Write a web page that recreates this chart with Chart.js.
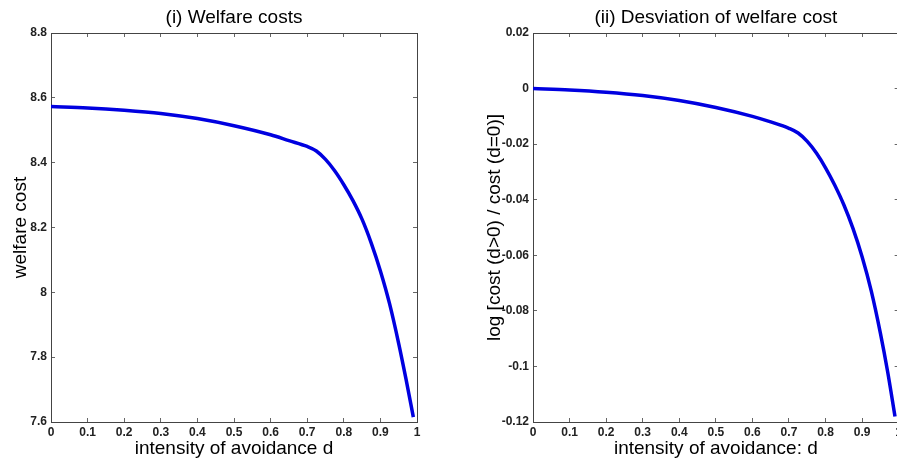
<!DOCTYPE html>
<html>
<head>
<meta charset="utf-8">
<script src="https://cdn.jsdelivr.net/npm/chart.js@4.4.1/dist/chart.umd.min.js"></script>
<style>
  html, body { margin: 0; padding: 0; background: #fff; overflow: hidden; }
  #wrap { position: relative; width: 897px; height: 464px; overflow: hidden; background: #fff; }
  canvas { position: absolute; top: 0; }
  #chart-left { left: 0; }
  #chart-right { left: 449px; }
</style>
</head>
<body>
<div id="wrap">
  <canvas id="chart-left" width="448" height="464"></canvas>
  <canvas id="chart-right" width="460" height="464"></canvas>
</div>
<script>
// intensity of avoidance d
const avoidance = [0, 0.1, 0.2, 0.3, 0.4, 0.5, 0.6, 0.65, 0.7, 0.725, 0.75, 0.775, 0.8, 0.825, 0.85, 0.875, 0.9, 0.925, 0.95, 0.97, 0.99];
// (i) welfare cost
const welfareCost = [8.573, 8.569, 8.562, 8.552, 8.536, 8.514, 8.486, 8.468, 8.450, 8.436, 8.410, 8.375, 8.332, 8.283, 8.225, 8.152, 8.066, 7.965, 7.842, 7.732, 7.615];
// (ii) log [cost (d>0) / cost (d=0)]
const costDeviation = [0.0000, -0.0005, -0.0013, -0.0025, -0.0043, -0.0068, -0.0100, -0.0120, -0.0143, -0.0160, -0.0190, -0.0232, -0.0285, -0.0347, -0.0418, -0.0503, -0.0605, -0.0728, -0.0880, -0.1020, -0.1180];

const xTicks = [0, 0.1, 0.2, 0.3, 0.4, 0.5, 0.6, 0.7, 0.8, 0.9, 1];
const xTickLabels = ['0', '0.1', '0.2', '0.3', '0.4', '0.5', '0.6', '0.7', '0.8', '0.9', '1'];
const leftYTicks = [7.6, 7.8, 8, 8.2, 8.4, 8.6, 8.8];
const leftYTickLabels = ['7.6', '7.8', '8', '8.2', '8.4', '8.6', '8.8'];
const rightYTicks = [-0.12, -0.1, -0.08, -0.06, -0.04, -0.02, 0, 0.02];
const rightYTickLabels = ['-0.12', '-0.1', '-0.08', '-0.06', '-0.04', '-0.02', '0', '0.02'];

const tickFont = { family: "'Liberation Sans Narrow', 'Arial Narrow', 'Liberation Sans', Arial, sans-serif", size: 12, weight: 'bold' };
const titleFont = { family: "'Liberation Sans', Arial, sans-serif", size: 19, weight: 'normal' };
const axisColor = '#444';
const tickMarkColor = '#666';

function setTicks(list) {
  return scale => { scale.ticks = list.map(v => ({ value: v })); };
}

function makeChart(id, cfg) {
  const ctx = document.getElementById(id).getContext('2d');
  const grid = { drawOnChartArea: false, drawTicks: true, tickLength: -4, color: tickMarkColor };
  const border = { display: true, color: axisColor, width: 1 };
  return new Chart(ctx, {
    type: 'line',
    data: {
      datasets: [{
        data: avoidance.map((d, i) => ({ x: d, y: cfg.values[i] })),
        borderColor: '#0000e0',
        borderWidth: 3.5,
        pointRadius: 0,
        fill: false,
        cubicInterpolationMode: 'monotone',
        xAxisID: 'x',
        yAxisID: 'y'
      }]
    },
    options: {
      responsive: false,
      animation: false,
      devicePixelRatio: 1,
      layout: { padding: 0 },
      plugins: { legend: { display: false }, tooltip: { enabled: false }, title: { display: false } },
      scales: {
        x: {
          type: 'linear', position: 'bottom', min: 0, max: 1,
          afterBuildTicks: setTicks(xTicks),
          afterFit: s => { s.height = 42; },
          ticks: { callback: (v, i) => xTickLabels[i], font: tickFont, color: '#222', padding: 7, maxRotation: 0, autoSkip: false },
          grid: grid, border: border,
          title: { display: true, text: cfg.xTitle, font: titleFont, color: '#000', padding: { top: 0, bottom: 4 } }
        },
        x2: {
          type: 'linear', position: 'top', min: 0, max: 1,
          afterBuildTicks: setTicks(xTicks),
          afterFit: s => { s.height = 33; },
          ticks: { display: false },
          grid: grid, border: border,
          title: { display: true, text: cfg.title, font: titleFont, color: '#000', padding: { top: 6, bottom: 0 } }
        },
        y: {
          type: 'linear', position: 'left', min: cfg.yTicks[0], max: cfg.yTicks[cfg.yTicks.length - 1],
          afterBuildTicks: setTicks(cfg.yTicks),
          afterFit: s => { s.width = cfg.yWidth; },
          ticks: { callback: (v, i) => cfg.yLabels[i], font: tickFont, color: '#222', padding: 8, autoSkip: false },
          grid: grid, border: border,
          title: { display: true, text: cfg.yTitle, font: titleFont, color: '#000', padding: { top: cfg.yTitlePad, bottom: 0 } }
        },
        y2: {
          type: 'linear', position: 'right', min: cfg.yTicks[0], max: cfg.yTicks[cfg.yTicks.length - 1],
          afterBuildTicks: setTicks(cfg.yTicks),
          afterFit: s => { s.width = cfg.y2Width; },
          ticks: { display: false },
          grid: grid, border: border
        }
      }
    }
  });
}

makeChart('chart-left', {
  values: welfareCost,
  title: '(i) Welfare costs',
  xTitle: 'intensity of avoidance d',
  yTitle: 'welfare cost',
  yTicks: leftYTicks,
  yLabels: leftYTickLabels,
  yWidth: 51,
  y2Width: 31,
  yTitlePad: 9
});

makeChart('chart-right', {
  values: costDeviation,
  title: '(ii) Desviation of welfare cost',
  xTitle: 'intensity of avoidance: d',
  yTitle: 'log [cost (d>0) / cost (d=0)]',
  yTicks: rightYTicks,
  yLabels: rightYTickLabels,
  yWidth: 84,
  y2Width: 8,
  yTitlePad: 34
});
</script>
</body>
</html>
